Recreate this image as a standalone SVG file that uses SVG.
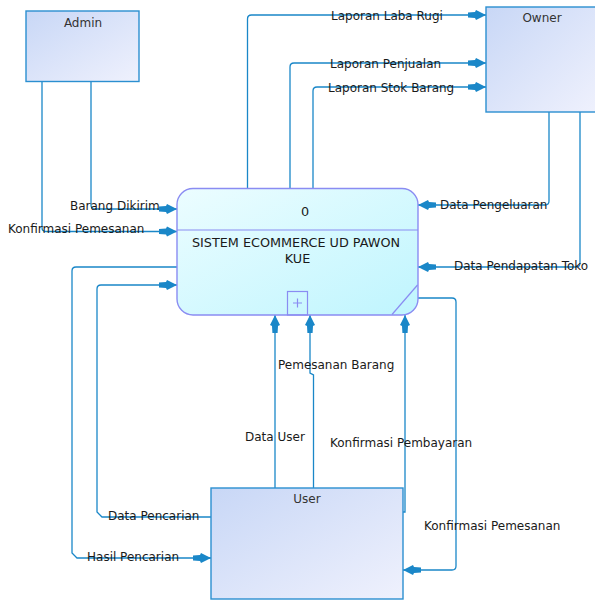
<svg xmlns="http://www.w3.org/2000/svg" width="595" height="602" viewBox="0 0 595 602">
<defs>
<linearGradient id="entGrad" x1="0" y1="0" x2="1" y2="1">
<stop offset="0" stop-color="#c8d7f6"/>
<stop offset="1" stop-color="#eff1fd"/>
</linearGradient>
<linearGradient id="procGrad" x1="0" y1="0" x2="1" y2="1">
<stop offset="0" stop-color="#ecfdff"/>
<stop offset="1" stop-color="#bff5fe"/>
</linearGradient>
<marker id="arr" markerUnits="userSpaceOnUse" markerWidth="22" markerHeight="14" viewBox="-20 -7 22 14" refX="0" refY="0" orient="auto">
<path d="M-18,-2.6 L-11,-3 L-10,-5 L0,0 L-10,5 L-11,3 L-18,2.6 Z" fill="#1a87c8"/>
</marker>
<style>
.ent{fill:url(#entGrad);stroke:#2b8fd0;stroke-width:1.4}
.proc{fill:url(#procGrad);stroke:#8a8cf2;stroke-width:1.4}
.pl{fill:none;stroke:#8a8cf2;stroke-width:1.2}
.lbl{font-family:"DejaVu Sans",Verdana,sans-serif;font-size:12px;fill:#1a1a1a}
.ttl{font-family:"DejaVu Sans",Verdana,sans-serif;font-size:12px;fill:#333;text-anchor:middle}
.ptx{font-family:"DejaVu Sans",Verdana,sans-serif;font-size:12.8px;fill:#1a1a1a;text-anchor:middle}
.flow{fill:none;stroke:#1a87c8;stroke-width:1.3;marker-end:url(#arr)}
</style>
</defs>
<rect width="595" height="602" fill="#ffffff"/>

<g id="connectors">
<path class="flow" d="M247.5,188 V19 Q247.5,15 251.5,15 H486"/>
<path class="flow" d="M290,188 V67 Q290,63 294,63 H486"/>
<path class="flow" d="M313,188 V91 Q313,87 317,87 H486"/>
<path class="flow" d="M91,81 V205 Q91,209 95,209 H177"/>
<path class="flow" d="M42,81 V227.5 Q42,231.5 46,231.5 H177"/>
<path class="flow" d="M549,112 V201 Q549,205 545,205 H418"/>
<path class="flow" d="M580,112 V263 Q580,267 576,267 H418"/>
<path class="flow" d="M177,267 H76 Q72,267 72,271 V553 L77,558 H211"/>
<path class="flow" d="M211,517 H102 L97,512 V289 Q97,285 101,285 H177"/>
<path class="flow" d="M275,488 V315"/>
<path class="flow" d="M313.5,488 V375 L310,373 V315"/>
<path class="flow" d="M403,512 H405 V315"/>
<path class="flow" d="M418,298 H452 Q456,298 456,302 V566 Q456,570 452,570 H403"/>
</g>

<g id="labels">
<text class="lbl" x="331" y="19.5">Laporan Laba Rugi</text>
<text class="lbl" x="330" y="67.5">Laporan Penjualan</text>
<text class="lbl" x="328" y="92">Laporan Stok Barang</text>
<text class="lbl" x="70" y="210">Barang Dikirim</text>
<text class="lbl" x="8" y="233">Konfirmasi Pemesanan</text>
<text class="lbl" x="440" y="208.5">Data Pengeluaran</text>
<text class="lbl" x="454" y="270">Data Pendapatan Toko</text>
<text class="lbl" x="87" y="561">Hasil Pencarian</text>
<text class="lbl" x="108" y="520">Data Pencarian</text>
<text class="lbl" x="245" y="441">Data User</text>
<text class="lbl" x="278" y="369">Pemesanan Barang</text>
<text class="lbl" x="330" y="447">Konfirmasi Pembayaran</text>
<text class="lbl" x="424" y="530">Konfirmasi Pemesanan</text>
</g>

<g id="admin">
<rect class="ent" x="26" y="11" width="113" height="70.5"/>
<text class="ttl" x="83" y="26.5">Admin</text>
</g>

<g id="owner">
<rect class="ent" x="486" y="7" width="110" height="105"/>
<text class="ttl" x="542" y="22">Owner</text>
</g>

<g id="user">
<rect class="ent" x="211" y="488" width="192" height="111"/>
<text class="ttl" x="307" y="503">User</text>
</g>

<g id="process0">
<rect class="proc" x="177" y="188.5" width="241" height="126.5" rx="16" ry="16"/>
<line class="pl" x1="177" y1="230" x2="418" y2="230"/>
<line class="pl" x1="392" y1="314.5" x2="417.5" y2="285"/>
<rect class="pl" x="287.5" y="291.5" width="20" height="23.5"/>
<path class="pl" d="M293,303 H302 M297.5,298.5 V307.5"/>
<text class="ptx" x="305" y="216" font-size="13.5">0</text>
<text class="ptx" x="296" y="246.5">SISTEM ECOMMERCE UD PAWON</text>
<text class="ptx" x="297.5" y="262.5">KUE</text>
</g>
</svg>
